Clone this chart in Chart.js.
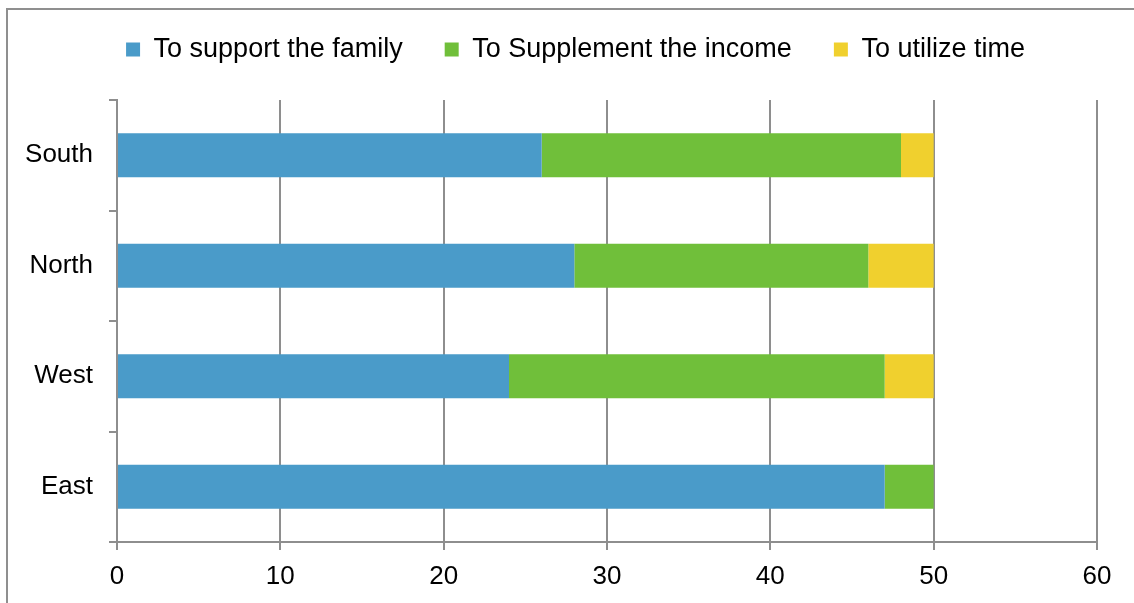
<!DOCTYPE html>
<html>
<head>
<meta charset="utf-8">
<script src="https://cdn.jsdelivr.net/npm/chart.js@4"></script>
<style>
  html, body { margin: 0; padding: 0; background: #fff; }
  #frame {
    position: absolute; left: 6px; top: 8px; width: 1200px; height: 700px;
    border-left: 2px solid #8f8f8f; border-top: 2px solid #8f8f8f;
  }
  #wrap { position: absolute; left: 0; top: 0; width: 1134px; height: 603px; }
</style>
</head>
<body>
<div id="frame"></div>
<div id="wrap"><canvas id="chart" width="1134" height="603"></canvas></div>
<script>
// regions, top to bottom
const regions = ["South", "North", "West", "East"];

const supportFamily = [26, 28, 24, 47];
const supplementIncome = [22, 18, 23, 3];
const utilizeTime = [2, 4, 3, 0];

const xTicks = [0, 10, 20, 30, 40, 50, 60];

const gridGrey = "#8e8e8e";
const font = { family: "'Liberation Sans', Arial, sans-serif", size: 26 };
const legendFont = { family: "'Liberation Sans', Arial, sans-serif", size: 27 };

// keeps the legend strip a fixed height and nudges it into place
const legendPlacement = {
  id: "legendPlacement",
  afterInit(chart) {
    const lg = chart.legend;
    const fit = lg.fit;
    lg.fit = function () {
      fit.call(this);
      this.height = 100;
    };
  },
  afterLayout(chart) {
    const lg = chart.legend;
    lg.top -= 6;
    lg.left += 27;
    lg.right += 27;
  }
};

new Chart(document.getElementById("chart"), {
  type: "bar",
  data: {
    labels: regions,
    datasets: [
      { label: "To support the family", data: supportFamily, backgroundColor: "#4a9bc9" },
      { label: "To Supplement the income", data: supplementIncome, backgroundColor: "#70bf3a" },
      { label: "To utilize time", data: utilizeTime, backgroundColor: "#f0d02e" }
    ]
  },
  options: {
    indexAxis: "y",
    responsive: false,
    animation: false,
    barPercentage: 0.4,
    categoryPercentage: 1,
    layout: { padding: { left: 0, right: 37, top: 0, bottom: 0 } },
    plugins: {
      tooltip: { enabled: false },
      legend: {
        position: "top",
        labels: {
          boxWidth: 14,
          boxHeight: 14,
          padding: 42,
          color: "#000",
          font: legendFont
        }
      }
    },
    scales: {
      x: {
        stacked: true,
        min: 0,
        max: 60,
        afterFit(scale) { scale.height = 61; },
        afterBuildTicks(scale) { scale.ticks = xTicks.map(v => ({ value: v })); },
        grid: { color: gridGrey, lineWidth: 2, tickLength: 8 },
        border: { color: gridGrey, width: 2 },
        ticks: { color: "#000", font: font, padding: 11 }
      },
      y: {
        stacked: true,
        afterFit(scale) { scale.width = 117; },
        grid: { color: gridGrey, lineWidth: 2, tickLength: 8, drawOnChartArea: false, offset: true },
        border: { color: gridGrey, width: 2 },
        ticks: { color: "#000", font: font, padding: 16 }
      }
    }
  },
  plugins: [legendPlacement]
});
</script>
</body>
</html>
